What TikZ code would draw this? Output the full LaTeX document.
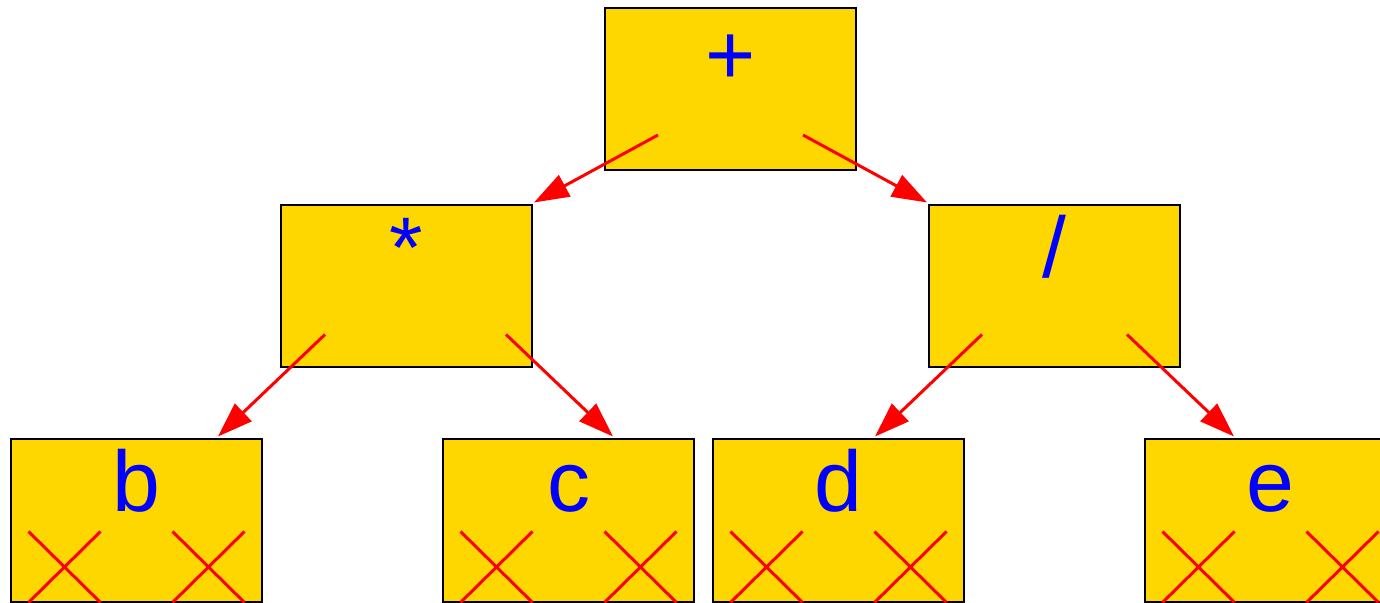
\documentclass[tikz,border=0pt]{standalone}
\usepackage{fontspec}
\setmainfont{Liberation Sans}
\usepackage{xcolor}
\usepackage{tikz}
\usetikzlibrary{positioning, arrows.meta, calc}
\definecolor{cellgold}{HTML}{FFD700}
\definecolor{symblue}{HTML}{0000FF}
\definecolor{ptrred}{HTML}{FF0000}

\begin{document}
\begin{tikzpicture}[x=0.5pt, y=-0.5pt,
    cell/.style={draw=black, fill=cellgold, line width=1pt, inner sep=0pt,
                 minimum width=125.5pt, text height=36pt, text depth=45pt,
                 text=symblue, font=\fontsize{43}{50}\selectfont},
    ptr/.style={draw=ptrred, line width=1.5pt, -{Triangle[length=17.5pt, width=12pt]}},
    nil/.style={draw=ptrred, line width=1.5pt}]
    \useasboundingbox (0,0) rectangle (1380,603);
    \clip (0,0) rectangle (1380,603);

    % operators
    \node[cell, text height=38.5pt, text depth=42.5pt] (plus) at (730.5,89) {+};
    \node[cell] (star)  at (406.5,286.5) {*};
    \node[cell] (slash) at (1054.5,286.5) {/};

    % leaves
    \node[cell] (b) at (136.5,520.5)  {b};
    \node[cell] (c) at (568.5,520.5)  {c};
    \node[cell] (d) at (838.5,520.5)  {d};
    \node[cell] (e) at (1270.5,520.5) {e};

    % empty pointers
    \foreach \leaf in {b,c,d,e}
      \foreach \dx in {-72,72} {
        \draw[nil] ($(\leaf.south)+(\dx-36,-71)$) -- ($(\leaf.south)+(\dx+36,0)$);
        \draw[nil] ($(\leaf.south)+(\dx+36,-71)$) -- ($(\leaf.south)+(\dx-36,0)$);
      }

    % pointer slots and targets
    \coordinate (plus-l)  at ($(plus.south)+(-72.5,-36)$);
    \coordinate (plus-r)  at ($(plus.south)+(72.5,-36)$);
    \coordinate (star-l)  at ($(star.south)+(-81.5,-34)$);
    \coordinate (star-r)  at ($(star.south)+(99.5,-34)$);
    \coordinate (slash-l) at ($(slash.south)+(-72.5,-34)$);
    \coordinate (slash-r) at ($(slash.south)+(72.5,-34)$);
    \coordinate (star-in)  at ($(star.north east)+(1,-2)$);
    \coordinate (slash-in) at ($(slash.north west)+(-1,-2)$);
    \coordinate (b-in) at ($(b.north)+(81.5,-2)$);
    \coordinate (c-in) at ($(c.north)+(44.5,-2)$);
    \coordinate (d-in) at ($(d.north)+(36.5,-2)$);
    \coordinate (e-in) at ($(e.north)+(-36.5,-2)$);

    \foreach \from/\to in {plus-l/star-in, plus-r/slash-in, star-l/b-in,
                           star-r/c-in, slash-l/d-in, slash-r/e-in}
      \draw[ptr] (\from) -- (\to);
\end{tikzpicture}
\end{document}
